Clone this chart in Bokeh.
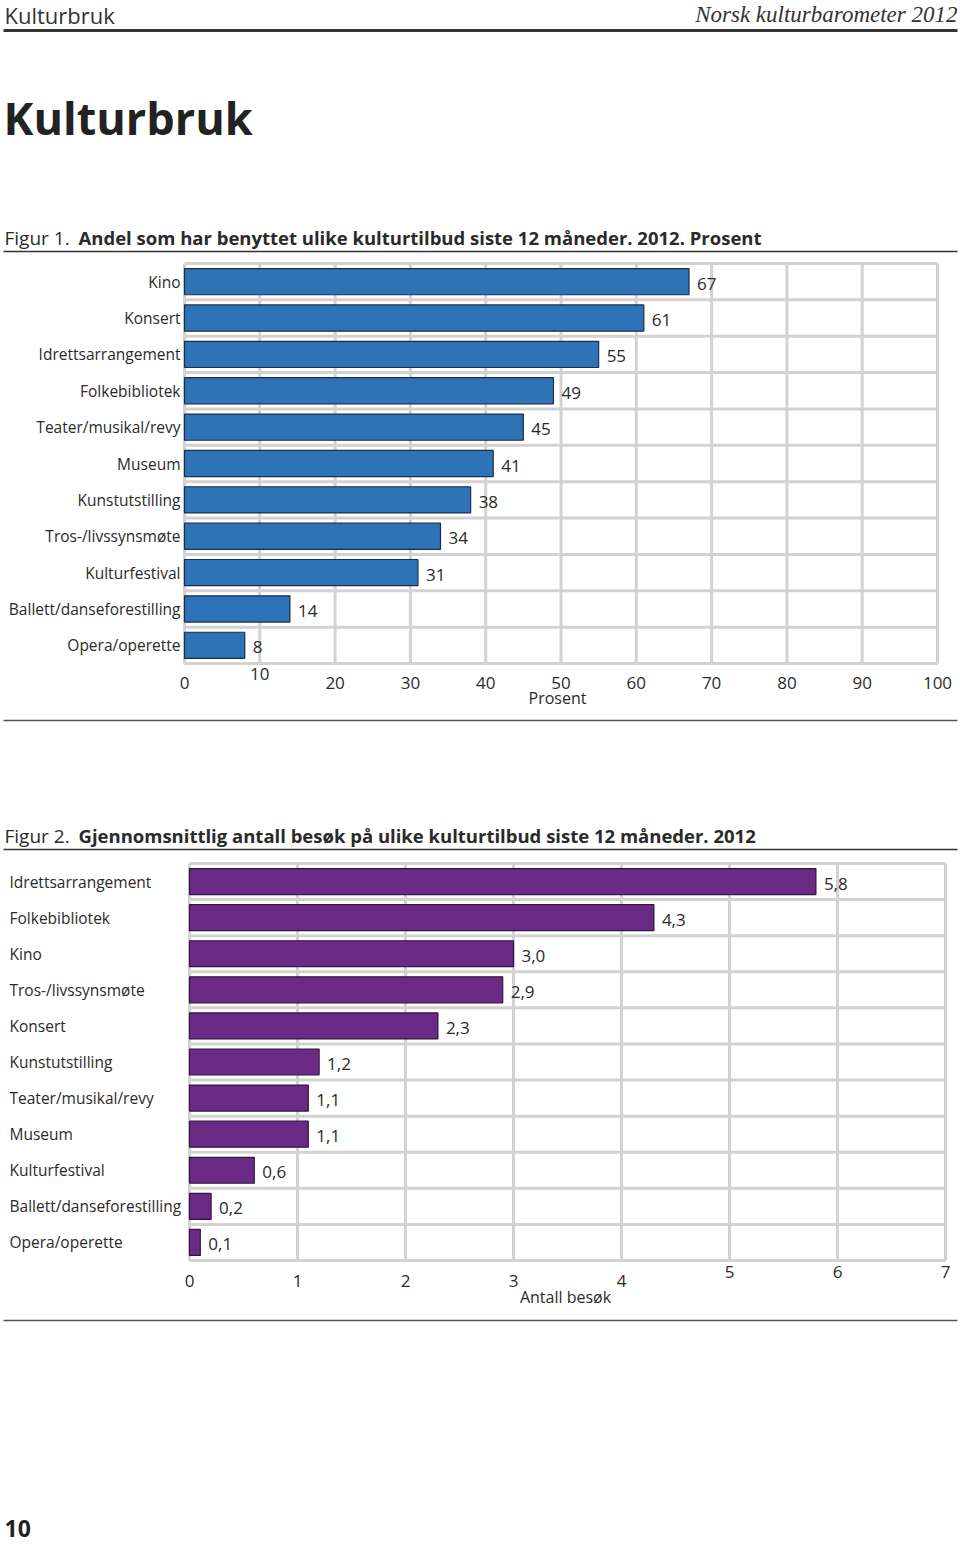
from bokeh.plotting import figure
from bokeh.models import Range1d
from bokeh.core.properties import value
from bokeh.embed import file_html
from bokeh.resources import INLINE

# ---------------- data ----------------
header_left = "Kulturbruk"
header_right = "Norsk kulturbarometer 2012"
page_title = "Kulturbruk"
page_number = "10"

fig1_prefix = "Figur 1."
fig1_title = "Andel som har benyttet ulike kulturtilbud siste 12 måneder. 2012. Prosent"
cats1 = ["Kino", "Konsert", "Idrettsarrangement", "Folkebibliotek", "Teater/musikal/revy",
         "Museum", "Kunstutstilling", "Tros-/livssynsmøte", "Kulturfestival",
         "Ballett/danseforestilling", "Opera/operette"]
vals1 = [67, 61, 55, 49, 45, 41, 38, 34, 31, 14, 8]
ticks1 = [0, 10, 20, 30, 40, 50, 60, 70, 80, 90, 100]
xlabel1 = "Prosent"

fig2_prefix = "Figur 2."
fig2_title = "Gjennomsnittlig antall besøk på ulike kulturtilbud siste 12 måneder. 2012"
cats2 = ["Idrettsarrangement", "Folkebibliotek", "Kino", "Tros-/livssynsmøte", "Konsert",
         "Kunstutstilling", "Teater/musikal/revy", "Museum", "Kulturfestival",
         "Ballett/danseforestilling", "Opera/operette"]
vals2 = [5.8, 4.3, 3.0, 2.9, 2.3, 1.2, 1.1, 1.1, 0.6, 0.2, 0.1]
ticks2 = [0, 1, 2, 3, 4, 5, 6, 7]
xlabel2 = "Antall besøk"

# ---------------- style / layout ----------------
W, H = 960, 1545
FONT = "Open Sans"
TXT = "#2a2a2a"
GRID = "#d2d2d2"

C1 = dict(left=184, right=937, top=263, bottom=663, vmin=0, vmax=100)
C2 = dict(left=189, right=945, top=863, bottom=1260, vmin=0, vmax=7)

p = figure(width=W, height=H, x_range=Range1d(0, W), y_range=Range1d(H, 0),
           x_axis_type=None, y_axis_type=None, output_backend="svg",
           toolbar_location=None, min_border=0)
p.outline_line_color = None
p.grid.visible = False
p.background_fill_color = "white"
p.border_fill_color = "white"


def add_ranges(name, c, n):
    sx = (c["right"] - c["left"]) / (c["vmax"] - c["vmin"])
    p.extra_x_ranges[name + "x"] = Range1d(c["vmin"] - c["left"] / sx,
                                           c["vmin"] + (W - c["left"]) / sx)
    band = (c["bottom"] - c["top"]) / n
    p.extra_y_ranges[name + "y"] = Range1d((H - c["top"]) / band - 0.5,
                                           -c["top"] / band - 0.5)


def txt(x, y, s, size, align="left", bold=False, font=FONT, italic=False,
        color=TXT, xr="default", yr="default", dx=0, dy=0):
    style = "bold" if bold else ("italic" if italic else "normal")
    p.text(x=x, y=y, text=s, text_font=value(font), text_font_size=size,
           text_align=align, text_baseline="middle", text_color=color,
           text_font_style=style, x_offset=dx, y_offset=dy,
           x_range_name=xr, y_range_name=yr)


# header
txt([4], [14], [header_left], "22px", color="#333333")
txt([957], [14], [header_right], "23px", align="right", font="Liberation Serif",
    italic=True, color="#333333")
p.segment(x0=[3], y0=[30], x1=[957], y1=[30], line_color="#333333", line_width=3)
txt([3], [117], [page_title], "45px", bold=True, color="#222222")


def chart(name, c, cats, vals, ticks, xlabel, prefix, title, title_y,
          bar_color, bar_line, cat_x, cat_align, tick_y, tick_y_raised,
          raised, xlabel_pos, fmt, bottom_line_y):
    n = len(cats)
    add_ranges(name, c, n)
    xr, yr = name + "x", name + "y"
    # title
    txt([4], [title_y], [prefix], "19px")
    txt([78], [title_y], [title], "18.5px", bold=True)
    p.segment(x0=[3], y0=[title_y + 14], x1=[957], y1=[title_y + 14],
              line_color="#333333", line_width=1.5)
    # grid
    p.segment(x0=ticks, y0=[-0.5] * len(ticks), x1=ticks, y1=[n - 0.5] * len(ticks),
              line_color=GRID, line_width=3, x_range_name=xr, y_range_name=yr)
    hy = [k - 0.5 for k in range(n + 1)]
    p.segment(x0=[c["vmin"]] * len(hy), y0=hy, x1=[c["vmax"]] * len(hy), y1=hy,
              line_color=GRID, line_width=3, x_range_name=xr, y_range_name=yr)
    # bars
    idx = list(range(n))
    p.hbar(y=idx, left=0, right=vals, height=0.72, fill_color=bar_color,
           line_color=bar_line, line_width=1.2, x_range_name=xr, y_range_name=yr)
    txt(vals, idx, [fmt(v) for v in vals], "17px", dx=8, dy=2, xr=xr, yr=yr)
    # category labels
    txt([cat_x] * n, idx, cats, "15.5px", align=cat_align, yr=yr)
    # tick labels
    ty = [tick_y_raised if t in raised else tick_y for t in ticks]
    txt(ticks, ty, [str(t) for t in ticks], "17px", align="center", xr=xr)
    txt([xlabel_pos[0]], [xlabel_pos[1]], [xlabel], "16px", align="center")
    p.segment(x0=[3], y0=[bottom_line_y], x1=[957], y1=[bottom_line_y],
              line_color="#555555", line_width=1.5)


chart("c1", C1, cats1, vals1, ticks1, xlabel1, fig1_prefix, fig1_title, 237,
      "#2e72b8", "#1c2f4a", 180, "right", 682, 673, {10}, (557, 697),
      lambda v: str(v), 720)
chart("c2", C2, cats2, vals2, ticks2, xlabel2, fig2_prefix, fig2_title, 835,
      "#6a2a86", "#341540", 9, "left", 1280, 1271, {5, 6, 7}, (565, 1296),
      lambda v: f"{v:.1f}".replace(".", ","), 1320)

txt([4], [1528], [page_number], "23px", bold=True, color="#222222")

open("out.html", "w").write(file_html(p, INLINE))
